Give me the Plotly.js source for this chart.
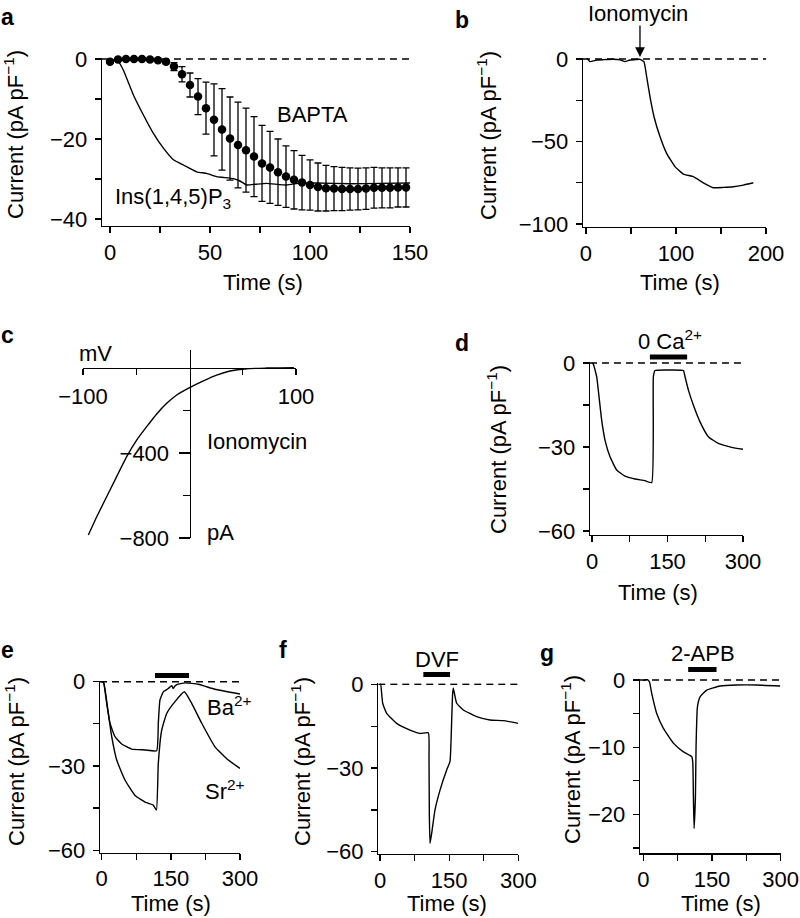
<!DOCTYPE html>
<html><head><meta charset="utf-8">
<script src="https://cdn.plot.ly/plotly-3.0.1.min.js"></script>
<style>html,body{margin:0;padding:0;background:#fff}#chart{width:800px;height:918px}</style>
</head><body><div id="chart"></div>
<script>
// ---------- DATA ----------
// Panel a
const aTime = [0,4,8,12,16,20,24,28,32,36,40,44,48,52,56,60,64,68,72,76,80,84,88,92,96,100,104,108,112,116,120,124,128,132,136,140,144,148];
const aBapta = [-0.7,-0.1,0,0,0,-0.1,-0.3,-0.7,-1.9,-3.8,-6.5,-9.4,-12.3,-15.2,-17.6,-19.9,-21.5,-22.8,-24.4,-26.1,-27.1,-28.3,-29.4,-30.2,-30.9,-31.5,-32.0,-32.3,-32.4,-32.5,-32.5,-32.5,-32.4,-32.2,-32.2,-32.2,-32.1,-32.1];
const aBaptaErr = [0.3,0.3,0.3,0.3,0.3,0.3,0.3,0.5,1.0,1.9,3.0,4.5,6.5,9.0,10.2,10.4,10.7,10.5,10.0,9.5,9.0,8.3,7.7,7.3,6.8,6.3,6.0,5.7,5.5,5.4,5.3,5.2,5.2,5.1,5.0,5.0,4.9,4.9];
const aInsTime = [0,4,6.7,11.7,16.7,21.7,26.7,31.7,36.7,43.3,48.3,53.3,61.7,65,68.3,73,78.3,88.3,95,103.3,120,135,150];
const aIns = [0,-0.5,-2.8,-9,-14,-18.6,-22.3,-25.2,-26.5,-28.2,-28.6,-29.4,-29.9,-30.5,-31.5,-31.3,-31.1,-31.5,-31.0,-31.0,-31.2,-31.1,-31.0];
const aXTicks = [0,25,50,75,100,125,150];
const aXLabels = ['0','','50','','100','','150'];
const aYTicks = [0,-10,-20,-30,-40];
const aYLabels = ['0','','−20','','−40'];
// Panel b
const bTime = [0,4.4,11.9,20,30.4,38,43.3,48.9,55,60,64.4,67.4,71.1,75.6,82.2,89.6,98.9,108.1,119.3,130.4,141.5,152.6,163.7,174.8,185.9];
const bCurrent = [1.5,-1.6,-0.6,-0.4,-0.2,-0.5,-1.6,-0.6,-0.4,-0.2,-1.6,-10.7,-22.8,-35,-47,-57.2,-65.2,-69.7,-71.3,-75,-78,-77.8,-77.4,-76.4,-75];
const bXTicks = [0,50,100,150,200];
const bXLabels = ['0','','100','','200'];
const bYTicks = [0,-25,-50,-75,-100];
const bYLabels = ['0','','−50','','−100'];
const bArrowTime = 60;
// Panel c
const cVoltage = [-95,-87.1,-77.8,-68.4,-59,-49.6,-40.2,-30.8,-21.4,-12,0.5,13,25.5,38,53.7,72.5,85,98];
const cCurrent = [-786,-700,-606,-511,-417,-339,-276,-216,-166,-127,-91,-60,-33,-14,-3,0,1,2];
const cXTicks = [-100,-50,50,100];
const cXLabels = ['−100','','','100'];
const cYTicks = [-400,-800];
const cYLabels = ['−400','−800'];
const cYMinor = [-200,-600];
// Panel d
const dTime = [0,2.6,9.3,13.9,19.2,25.8,35.8,49,65.6,85.4,105.3,118.6,121.9,125.2,151.6,181.5,184.8,191.4,201.3,214.6,231.1,251,277.5,300];
const dCurrent = [0,-0.4,-4.9,-12,-20.4,-27.5,-33.5,-38.2,-40.4,-41.4,-42,-42.7,-4.9,-2.7,-2.5,-2.7,-4.9,-9.6,-15,-21,-26.3,-28.7,-30.1,-30.8];
const dBar = [115,189];
// Panel e
const eBaTime = [0,3.5,10.8,18,28.9,43.4,65,94,119.2,122.8,126.4,133.6,144.5,152,155,159,163,180.7,209.6,245.8,300];
const eBa = [0,0,-7.7,-14.8,-19.6,-22.2,-24,-24.3,-24.6,-14.8,-6.5,-3.6,-2.4,-1.4,-2.4,-1.5,-1.0,-0.4,-0.9,-2.7,-4.4];
const eSrTime = [0,4.6,14.4,21.7,32.5,50.5,72.2,97,111.5,118.7,122.8,130.2,141,159,179.2,195.2,217,245.8,274.6,300];
const eSr = [0,-0.5,-11.3,-19.6,-27.9,-35,-40.5,-43.1,-43.9,-45.7,-29.1,-17.2,-11.3,-7.1,-3.6,-7.7,-14.8,-23.2,-27.9,-30.9];
const eBar = [115.6,189.4];
// Panel f
const fTime = [0,1.4,5.8,14.5,36.2,65.1,86.8,104.9,106.3,107,108.5,112.1,119.3,130.2,144.6,151.8,155.5,157.6,159.1,166.3,180.8,209.7,238.6,267.6,300];
const fCurrent = [0,0,-6.8,-10.4,-14,-16.4,-17.6,-17.4,-25.9,-46.2,-57,-53.4,-45,-37.9,-30.7,-27.7,-12.8,-3.2,-1.4,-6.8,-9.2,-11.6,-12.8,-13,-14];
const fBar = [94,152];
// Panel g
const gTime = [0,7.5,13.3,18.4,29.3,43.9,65.7,87.6,105.8,108,109.4,110.9,113.8,115.2,118.2,124,138.6,167.7,204.1,247.8,298.8];
const gCurrent = [-0.1,0.15,-0.25,-2,-5,-7.2,-9.4,-10.7,-11.4,-12.2,-17.4,-22.1,-17.4,-9.9,-4,-2.5,-1.5,-0.9,-0.75,-0.75,-0.9];
const gBar = [98,160];
// shared tick sets for d-g
const t300Ticks = [0,75,150,225,300];
const t300Labels = ['0','','150','','300'];
const y60Ticks = [0,-15,-30,-45,-60];
const y60Labels = ['0','','−30','','−60'];
const gYTicks = [0,-5,-10,-15,-20,-25];
const gYLabels = ['0','','−10','','−20',''];

// ---------- LAYOUT HELPERS ----------
const W = 800, H = 918;
const px = x => x / W;
const py = y => 1 - y / H;
const xdom = (l, r) => [l / W, r / W];
const ydom = (top, bottom) => [1 - bottom / H, 1 - top / H];
const FAM = '"Liberation Sans", Arial, Helvetica, sans-serif';
const FONT = {family: FAM, size: 22, color: '#000'};
const LW = 1.3;

function ax(extra) {
  return Object.assign({
    showline: true, linecolor: '#000', linewidth: LW,
    ticks: 'outside', ticklen: 6, tickwidth: LW, tickcolor: '#000',
    showgrid: false, zeroline: false, tickfont: FONT, tickmode: 'array',
    fixedrange: true
  }, extra);
}
function xa(dom, range, anchor, tv, tt) {
  return ax({domain: dom, range: range, anchor: anchor, tickvals: tv, ticktext: tt, ticklabelstandoff: 0});
}
function ya(dom, range, anchor, tv, tt) {
  return ax({domain: dom, range: range, anchor: anchor, tickvals: tv, ticktext: tt, ticklabelstandoff: 3});
}

const lineStyle = {color: '#000', width: 1.4};
function lineTrace(x, y, xaxis, yaxis) {
  return {x: x, y: y, xaxis: xaxis, yaxis: yaxis, type: 'scatter', mode: 'lines',
          line: Object.assign({shape: 'spline', smoothing: 0.4}, lineStyle), cliponaxis: false, hoverinfo: 'skip'};
}

const traces = [
  lineTrace(aInsTime, aIns, 'x', 'y'),
  {x: aTime, y: aBapta, xaxis: 'x', yaxis: 'y', type: 'scatter', mode: 'markers',
   marker: {color: '#000', size: 8.5}, cliponaxis: false, hoverinfo: 'skip',
   error_y: {type: 'data', array: aBaptaErr, visible: true, color: '#000', thickness: 1.3, width: 3.5}},
  lineTrace(bTime, bCurrent, 'x2', 'y2'),
  lineTrace(cVoltage, cCurrent, 'x3', 'y3'),
  lineTrace(dTime, dCurrent, 'x4', 'y4'),
  lineTrace(eBaTime, eBa, 'x5', 'y5'),
  lineTrace(eSrTime, eSr, 'x5', 'y5'),
  lineTrace(fTime, fCurrent, 'x6', 'y6'),
  lineTrace(gTime, gCurrent, 'x7', 'y7')
];

const ranges = {
  a: {x: [-4, 150], y: [-41.75, 0.25]},
  b: {x: [-3.3, 200], y: [-101.8, 0.6]},
  c: {x: [-100, 100], y: [-800, 85]},
  d: {x: [-4, 300], y: [-61.4, 0.36]},
  e: {x: [-3.7, 300], y: [-60.9, 0.36]},
  f: {x: [-3.7, 300], y: [-60.8, 0.36]},
  g: {x: [-7.2, 300], y: [-25.8, 0.15]}
};

const layout = {
  width: W, height: H, margin: {l: 0, r: 0, t: 0, b: 0},
  paper_bgcolor: '#fff', plot_bgcolor: 'rgba(0,0,0,0)', showlegend: false,
  font: FONT,
  xaxis: xa(xdom(102, 410), ranges.a.x, 'y', aXTicks, aXLabels),
  yaxis: ya(ydom(58, 226), ranges.a.y, 'x', aYTicks, aYLabels),
  xaxis2: xa(xdom(583, 766), ranges.b.x, 'y2', bXTicks, bXLabels),
  yaxis2: ya(ydom(58, 227), ranges.b.y, 'x2', bYTicks, bYLabels),
  xaxis3: Object.assign(xa(xdom(83, 296), ranges.c.x, 'free', cXTicks, cXLabels), {position: py(367.5), ticklabelstandoff: 3}),
  yaxis3: Object.assign(ya(ydom(350, 538), ranges.c.y, 'free', cYTicks, cYLabels),
          {position: px(189.5), ticklen: 11, ticklabelstandoff: 5,
           minor: {tickvals: cYMinor, ticks: 'outside', ticklen: 7, tickwidth: LW, tickcolor: '#000', showgrid: false}}),
  xaxis4: xa(xdom(590, 743), ranges.d.x, 'y4', t300Ticks, t300Labels),
  yaxis4: ya(ydom(362, 535), ranges.d.y, 'x4', y60Ticks, y60Labels),
  xaxis5: xa(xdom(100, 240), ranges.e.x, 'y5', t300Ticks, t300Labels),
  yaxis5: ya(ydom(680.7, 852.7), ranges.e.y, 'x5', y60Ticks, y60Labels),
  xaxis6: xa(xdom(378.3, 518.3), ranges.f.x, 'y6', t300Ticks, t300Labels),
  yaxis6: ya(ydom(683.3, 854), ranges.f.y, 'x6', y60Ticks, y60Labels),
  xaxis7: xa(xdom(640, 780.7), ranges.g.x, 'y7', t300Ticks, t300Labels),
  yaxis7: ya(ydom(679, 853.3), ranges.g.y, 'x7', gYTicks, gYLabels)
};

// zero dashed lines
function zeroLine(xr, yr, x0, x1) {
  return {type: 'line', xref: xr, yref: yr, x0: x0, x1: x1, y0: 0, y1: 0,
          line: {color: '#000', width: 1.5, dash: '7px,5px'}, layer: 'below'};
}
function drugBar(xr, bar, yPix) {
  return {type: 'line', xref: xr, yref: 'paper', x0: bar[0], x1: bar[1], y0: py(yPix), y1: py(yPix),
          line: {color: '#000', width: 5}};
}
layout.shapes = [
  zeroLine('x', 'y', ranges.a.x[0], 150),
  zeroLine('x2', 'y2', ranges.b.x[0], 200),
  zeroLine('x4', 'y4', ranges.d.x[0], 300),
  zeroLine('x5', 'y5', ranges.e.x[0], 300),
  zeroLine('x6', 'y6', ranges.f.x[0], 300),
  zeroLine('x7', 'y7', ranges.g.x[0], 300),
  drugBar('x4', dBar, 357),
  drugBar('x5', eBar, 675.5),
  drugBar('x6', fBar, 674.5),
  drugBar('x7', gBar, 669.5)
];

function txt(text, x, y, opts) {
  return Object.assign({text: text, xref: 'paper', yref: 'paper', x: px(x), y: py(y),
    showarrow: false, xanchor: 'center', yanchor: 'middle', font: FONT}, opts || {});
}
const BOLD = {family: FAM, size: 23, color: '#000', weight: 'bold'};
const yTitle = 'Current (pA pF<sup>−1</sup>)';
layout.annotations = [
  // panel letters
  txt('<b>a</b>', 7, 17, {font: BOLD}),
  txt('<b>b</b>', 462, 20, {font: BOLD}),
  txt('<b>c</b>', 7, 335, {font: BOLD}),
  txt('<b>d</b>', 462, 343, {font: BOLD}),
  txt('<b>e</b>', 7, 650, {font: BOLD}),
  txt('<b>f</b>', 283, 650, {font: BOLD}),
  txt('<b>g</b>', 547, 653, {font: BOLD}),
  // y titles
  txt(yTitle, 14, 135, {textangle: -90}),
  txt(yTitle, 487, 136, {textangle: -90}),
  txt(yTitle, 497, 450, {textangle: -90}),
  txt(yTitle, 15, 762, {textangle: -90}),
  txt(yTitle, 301, 762, {textangle: -90}),
  txt(yTitle, 571, 760, {textangle: -90}),
  // x titles
  txt('Time (s)', 263, 282),
  txt('Time (s)', 680, 282),
  txt('Time (s)', 658, 592),
  txt('Time (s)', 171, 903),
  txt('Time (s)', 447, 903),
  txt('Time (s)', 721, 903),
  // labels
  txt('BAPTA', 312, 115),
  txt('Ins(1,4,5)P<sub>3</sub>', 113, 198, {xanchor: 'left'}),
  txt('Ionomycin', 638, 13),
  {text: '', xref: 'x2', yref: 'y2', x: bArrowTime, y: 0, showarrow: true, axref: 'pixel', ayref: 'pixel',
   ax: 0, ay: -35, arrowhead: 2, arrowsize: 1.5, arrowwidth: 1.3, arrowcolor: '#000', standoff: 2},
  txt('mV', 77, 354, {xanchor: 'left'}),
  txt('Ionomycin', 205, 442, {xanchor: 'left'}),
  txt('pA', 205, 532, {xanchor: 'left'}),
  txt('0 Ca<sup>2+</sup>', 670, 340),
  txt('Ba<sup>2+</sup>', 205, 706, {xanchor: 'left'}),
  txt('Sr<sup>2+</sup>', 203, 790, {xanchor: 'left'}),
  txt('DVF', 437, 659),
  txt('2-APB', 703, 653)
];

Plotly.newPlot('chart', traces, layout, {displayModeBar: false, staticPlot: true});
</script>
</body></html>
